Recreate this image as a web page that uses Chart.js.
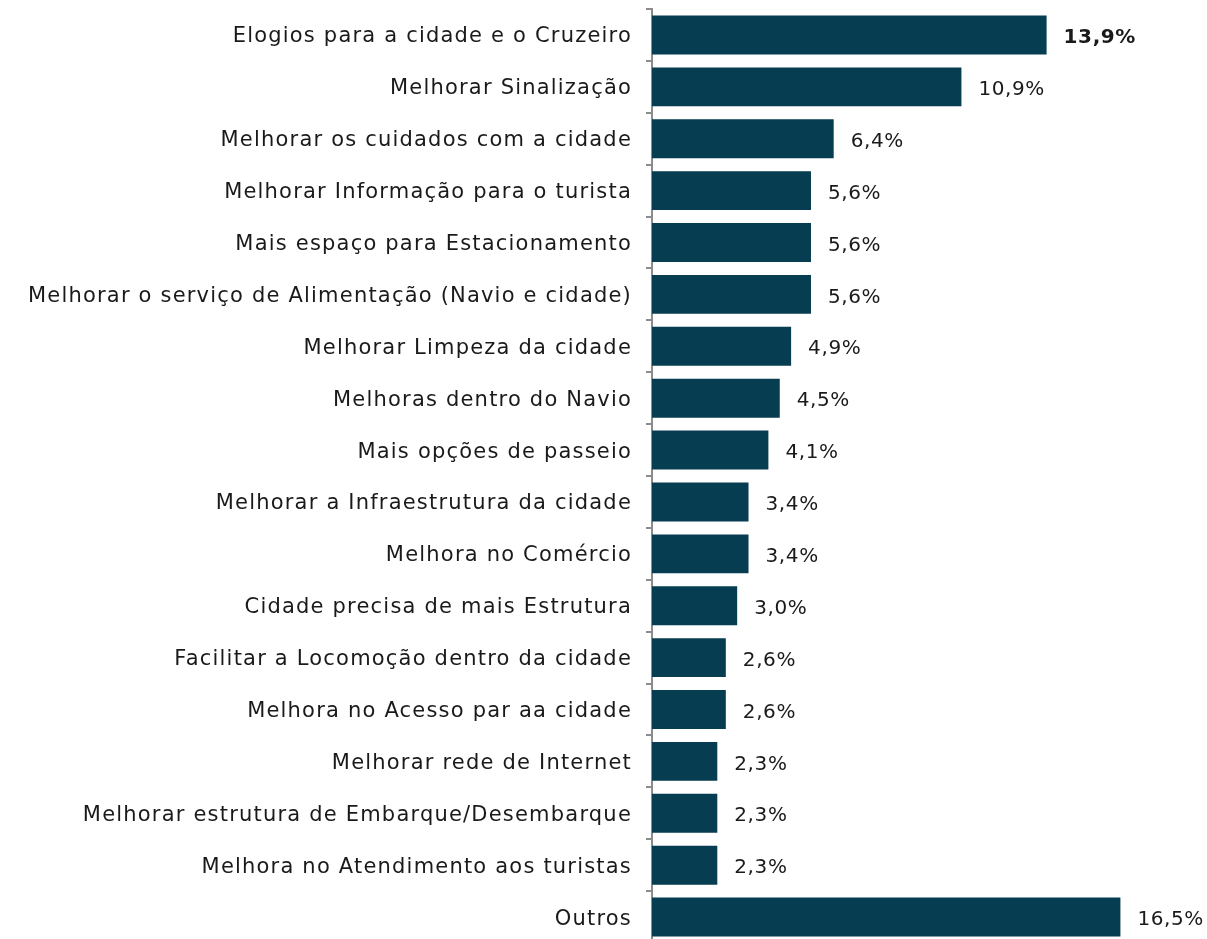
<!DOCTYPE html>
<html>
<head>
<meta charset="utf-8">
<script src="https://cdn.jsdelivr.net/npm/chart.js@4"></script>
<style>
  html, body { margin: 0; padding: 0; background: #fff; overflow: hidden; }
  #wrap { width: 1207px; height: 939px; overflow: hidden; }
</style>
</head>
<body>
<div id="wrap"><canvas id="sugestoesChart" width="1207" height="945"></canvas></div>
<script>
let labels = [
    "Elogios para a cidade e o Cruzeiro",
    "Melhorar Sinalização",
    "Melhorar os cuidados com a cidade",
    "Melhorar Informação para o turista",
    "Mais espaço para Estacionamento",
    "Melhorar o serviço de Alimentação (Navio e cidade)",
    "Melhorar Limpeza da cidade",
    "Melhoras dentro do Navio",
    "Mais opções de passeio",
    "Melhorar a Infraestrutura da cidade",
    "Melhora no Comércio",
    "Cidade precisa de mais Estrutura",
    "Facilitar a Locomoção dentro da cidade",
    "Melhora no Acesso par aa cidade",
    "Melhorar rede de Internet",
    "Melhorar estrutura de Embarque/Desembarque",
    "Melhora no Atendimento aos turistas",
    "Outros"
];
let percentuais = [13.9, 10.9, 6.4, 5.6, 5.6, 5.6, 4.9, 4.5, 4.1, 3.4, 3.4, 3.0, 2.6, 2.6, 2.3, 2.3, 2.3, 16.5];
let destaque = [0]; // rótulos em negrito

let fonte = "'DejaVu Sans', sans-serif";

// espaçamento entre letras pra chegar perto da largura da fonte original
let espacamento = {
    id: "espacamento",
    beforeLayout(chart) { chart.ctx.letterSpacing = "1.2px"; },
    beforeDraw(chart) { chart.ctx.letterSpacing = "1.2px"; }
};

// escreve o valor ao lado de cada barra
let rotulosValor = {
    id: "rotulosValor",
    afterDatasetsDraw(chart) {
        let ctx = chart.ctx;
        let meta = chart.getDatasetMeta(0);
        ctx.save();
        ctx.letterSpacing = "0.6px";
        ctx.fillStyle = "#1a1a1a";
        ctx.textBaseline = "middle";
        ctx.textAlign = "left";
        meta.data.forEach((bar, i) => {
            let bold = destaque.includes(i);
            ctx.font = (bold ? "bold " : "") + "20px " + fonte;
            let txt = percentuais[i].toFixed(1).replace(".", ",") + "%";
            ctx.fillText(txt, bar.x + 17, bar.y + 3);
        });
        ctx.restore();
    }
};

let ctx = document.getElementById("sugestoesChart").getContext("2d");
let chart = new Chart(ctx, {
    type: "bar",
    data: {
        labels: labels,
        datasets: [{
            data: percentuais,
            backgroundColor: "#063d50",
            barPercentage: 0.75,
            categoryPercentage: 1.0
        }]
    },
    options: {
        indexAxis: "y",
        responsive: false,
        animation: false,
        layout: { padding: { top: 9, right: 44, bottom: 2, left: 0 } },
        plugins: {
            legend: { display: false },
            tooltip: { enabled: false }
        },
        scales: {
            x: {
                min: 0,
                max: 18,
                display: false
            },
            y: {
                afterFit(scale) {
                    scale.width = 652;
                    scale.paddingTop = 0;
                    scale.paddingBottom = 0;
                },
                border: { display: true, color: "#8c8c8c", width: 2 },
                grid: {
                    display: true,
                    drawOnChartArea: false,
                    drawTicks: true,
                    tickLength: 6,
                    color: "#8c8c8c",
                    lineWidth: 2,
                    offset: true
                },
                ticks: {
                    color: "#1a1a1a",
                    padding: 14,
                    labelOffset: 2,
                    autoSkip: false,
                    font: { family: fonte, size: 21 }
                }
            }
        }
    },
    plugins: [espacamento, rotulosValor]
});
</script>
</body>
</html>
